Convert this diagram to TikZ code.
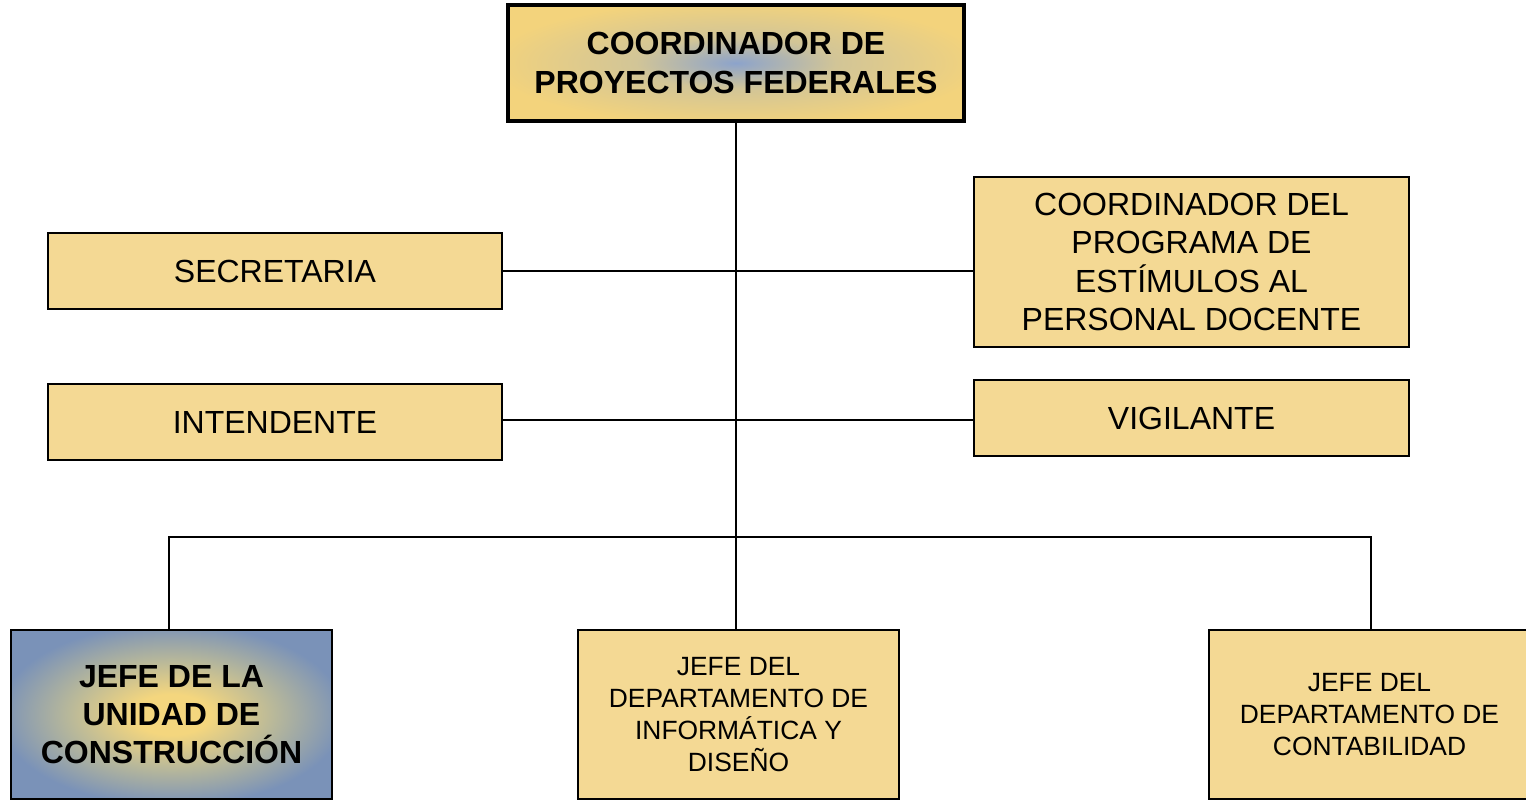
\documentclass[tikz,border=0pt]{standalone}
\usepackage{fontspec}
\setmainfont{Liberation Sans}
\definecolor{boxfill}{HTML}{F4D994}
\definecolor{topyel}{HTML}{F3D37C}
\definecolor{topmid}{HTML}{D2C597}
\definecolor{topblue}{HTML}{8CA3CB}
\definecolor{jefeblue}{HTML}{7A92B8}
\definecolor{jefemid}{HTML}{B8B89A}
\definecolor{jefeyel}{HTML}{F4D67E}
\pgfdeclareradialshading{headrad}{\pgfpoint{0bp}{0bp}}{color(0bp)=(topblue); color(11bp)=(topmid); color(27bp)=(topyel); color(50bp)=(topyel)}
\pgfdeclareradialshading{jeferad}{\pgfpoint{0bp}{0bp}}{color(0bp)=(jefeyel); color(6bp)=(jefeyel); color(16bp)=(jefemid); color(27bp)=(jefeblue); color(50bp)=(jefeblue)}
\tikzset{
  unitbox/.style={draw=black, line width=1.4pt, fill=boxfill, inner sep=0pt, align=center, font=\fontsize{32}{38.4}\selectfont},
  smallbox/.style={unitbox, font=\fontsize{26.4}{31.7}\selectfont},
  headbox/.style={draw=black, line width=4pt, shading=headrad, inner sep=0pt, align=center, font=\fontsize{32}{38.4}\selectfont\bfseries},
  jefebox/.style={draw=black, line width=1.4pt, shading=jeferad, inner sep=0pt, align=center, font=\fontsize{32}{38}\selectfont\bfseries},
  link/.style={draw=black, line width=1.4pt}
}
\begin{document}
\begin{tikzpicture}[x=1pt,y=-1pt]
\clip (0,0) rectangle (1526,801);
\fill[white] (0,0) rectangle (1526,801);
% nodes
\node[headbox, minimum width=456, minimum height=116] (top) at (736,63) {COORDINADOR DE\\PROYECTOS FEDERALES};
\node[unitbox, minimum width=454, minimum height=76] (sec) at (275,271) {SECRETARIA};
\node[unitbox, minimum width=454, minimum height=76] (int) at (275,422) {INTENDENTE};
\node[unitbox, minimum width=435, minimum height=170] (prog) at (1191.5,262) {COORDINADOR DEL\\PROGRAMA DE\\ESTÍMULOS AL\\PERSONAL DOCENTE};
\node[unitbox, minimum width=435, minimum height=76] (vig) at (1191.5,418) {VIGILANTE};
\node[jefebox, minimum width=321, minimum height=169] (jcon) at (171.5,714.5) {JEFE DE LA\\UNIDAD DE\\CONSTRUCCIÓN};
\node[smallbox, minimum width=321, minimum height=169] (jinf) at (738.5,714.5) {JEFE DEL\\DEPARTAMENTO DE\\INFORMÁTICA Y\\DISEÑO};
\node[smallbox, minimum width=321, minimum height=169] (jcont) at (1369.5,714.5) {JEFE DEL\\DEPARTAMENTO DE\\CONTABILIDAD};
% connectors
\coordinate (trunkTop) at (736,122);
\coordinate (trunkBot) at (736,630);
\coordinate (busL) at (169,537);
\coordinate (busR) at (1371,537);
\draw[link] (trunkTop) -- (trunkBot);
\draw[link] (sec.east |- 0,271) -- (prog.west |- 0,271);
\draw[link] (int.east |- 0,420) -- (vig.west |- 0,420);
\draw[link] (jcon.north -| busL) -- (busL) -- (busR) -- (jcont.north -| busR);
\end{tikzpicture}
\end{document}
